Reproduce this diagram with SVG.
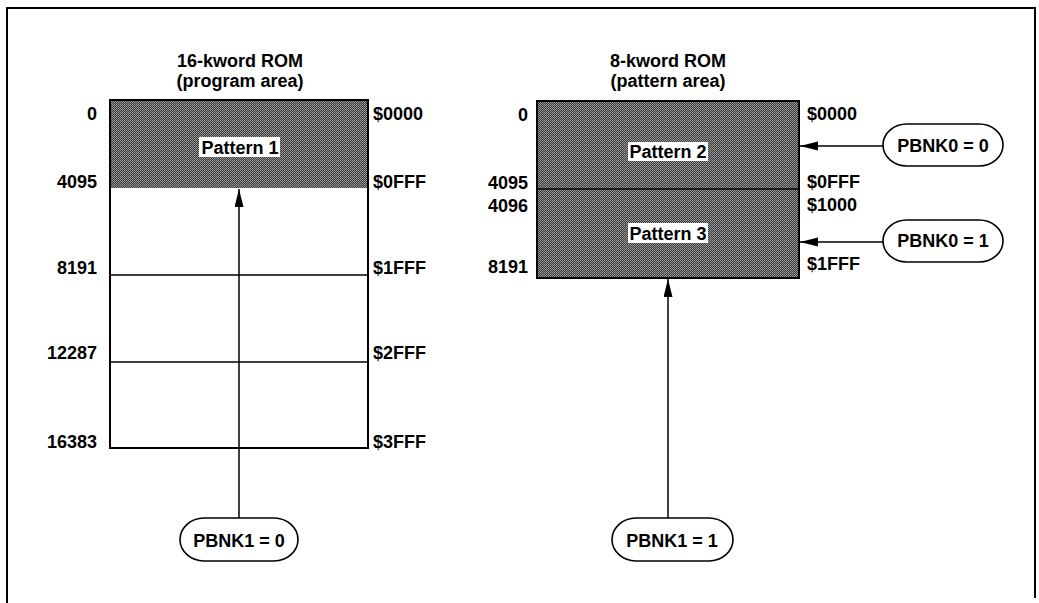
<svg xmlns="http://www.w3.org/2000/svg" width="1039" height="603" viewBox="0 0 1039 603">
<style>
text{font-family:"Liberation Sans",Arial,sans-serif;font-size:18px;font-weight:bold;fill:#000}
.c{text-anchor:middle}
.r{text-anchor:end}
.frame{fill:none;stroke:#000;stroke-width:2}
.rom{fill:none;stroke:#000;stroke-width:2}
.div{stroke:#000;stroke-width:1.6}
.shade{fill:url(#dots)}
.lbl{fill:#fff}
.oval{fill:#fff;stroke:#000;stroke-width:1.6}
.conn{stroke:#000;stroke-width:1.5;fill:none;marker-end:url(#ah)}
</style>
<defs>
<pattern id="dots" width="2" height="2" patternUnits="userSpaceOnUse">
<rect width="2" height="2" fill="#3c3c3c"/>
<rect width="1" height="1" fill="#a0a0a0"/>
<rect x="1" y="1" width="1" height="1" fill="#8a8a8a"/>
</pattern>
<marker id="ah" markerUnits="userSpaceOnUse" markerWidth="18" markerHeight="10" refX="18" refY="4.5" orient="auto">
<path d="M0,0 L18,4.5 L0,9 z" fill="#000"/>
</marker>
</defs>
<rect width="1039" height="603" fill="#fff"/>
<path class="frame" d="M7,603 L7,8 L1035,8 L1035,598"/>

<g id="rom16">
<text class="c" x="240" y="67">16-kword ROM</text>
<text class="c" x="240" y="87">(program area)</text>
<rect class="shade" x="110" y="100" width="258" height="88"/>
<line class="div" x1="110" y1="275" x2="368" y2="275"/>
<line class="div" x1="110" y1="362" x2="368" y2="362"/>
<rect class="rom" x="110" y="100" width="258" height="348"/>
<rect class="lbl" x="199" y="137" width="81" height="20"/>
<text class="c" x="240" y="154">Pattern 1</text>
<text class="r" x="97" y="120">0</text>
<text class="r" x="97" y="188">4095</text>
<text class="r" x="97" y="274">8191</text>
<text class="r" x="97" y="359">12287</text>
<text class="r" x="97" y="448">16383</text>
<text x="373" y="120">$0000</text>
<text x="373" y="188">$0FFF</text>
<text x="373" y="274">$1FFF</text>
<text x="373" y="359">$2FFF</text>
<text x="373" y="448">$3FFF</text>
</g>

<g id="rom8">
<text class="c" x="668" y="67">8-kword ROM</text>
<text class="c" x="668" y="87">(pattern area)</text>
<rect class="shade" x="537" y="101" width="262" height="177"/>
<line class="div" x1="537" y1="189" x2="799" y2="189"/>
<rect class="rom" x="537" y="101" width="262" height="177"/>
<rect class="lbl" x="628" y="142" width="80" height="19"/>
<text class="c" x="668" y="158">Pattern 2</text>
<rect class="lbl" x="628" y="223" width="80" height="20"/>
<text class="c" x="668" y="240">Pattern 3</text>
<text class="r" x="528" y="121">0</text>
<text class="r" x="528" y="189">4095</text>
<text class="r" x="528" y="212">4096</text>
<text class="r" x="528" y="273">8191</text>
<text x="807" y="120">$0000</text>
<text x="807" y="188">$0FFF</text>
<text x="807" y="211">$1000</text>
<text x="807" y="270">$1FFF</text>
</g>

<g id="pbnk1-0">
<rect class="oval" x="180" y="518" width="118" height="43" rx="24" ry="21.5"/>
<text class="c" x="239" y="547">PBNK1 = 0</text>
</g>
<g id="pbnk1-1">
<rect class="oval" x="612" y="518" width="121" height="43" rx="24" ry="21.5"/>
<text class="c" x="672" y="547">PBNK1 = 1</text>
</g>
<g id="pbnk0-0">
<rect class="oval" x="883" y="124" width="120" height="42" rx="24" ry="21"/>
<text class="c" x="943" y="152">PBNK0 = 0</text>
</g>
<g id="pbnk0-1">
<rect class="oval" x="883" y="220" width="120" height="42" rx="24" ry="21"/>
<text class="c" x="943" y="247">PBNK0 = 1</text>
</g>

<g id="connectors">
<line class="conn" x1="239" y1="518" x2="239" y2="189"/>
<line class="conn" x1="668" y1="518" x2="668" y2="279"/>
<line class="conn" x1="883" y1="146" x2="800" y2="146"/>
<line class="conn" x1="883" y1="242" x2="800" y2="242"/>
</g>
</svg>
